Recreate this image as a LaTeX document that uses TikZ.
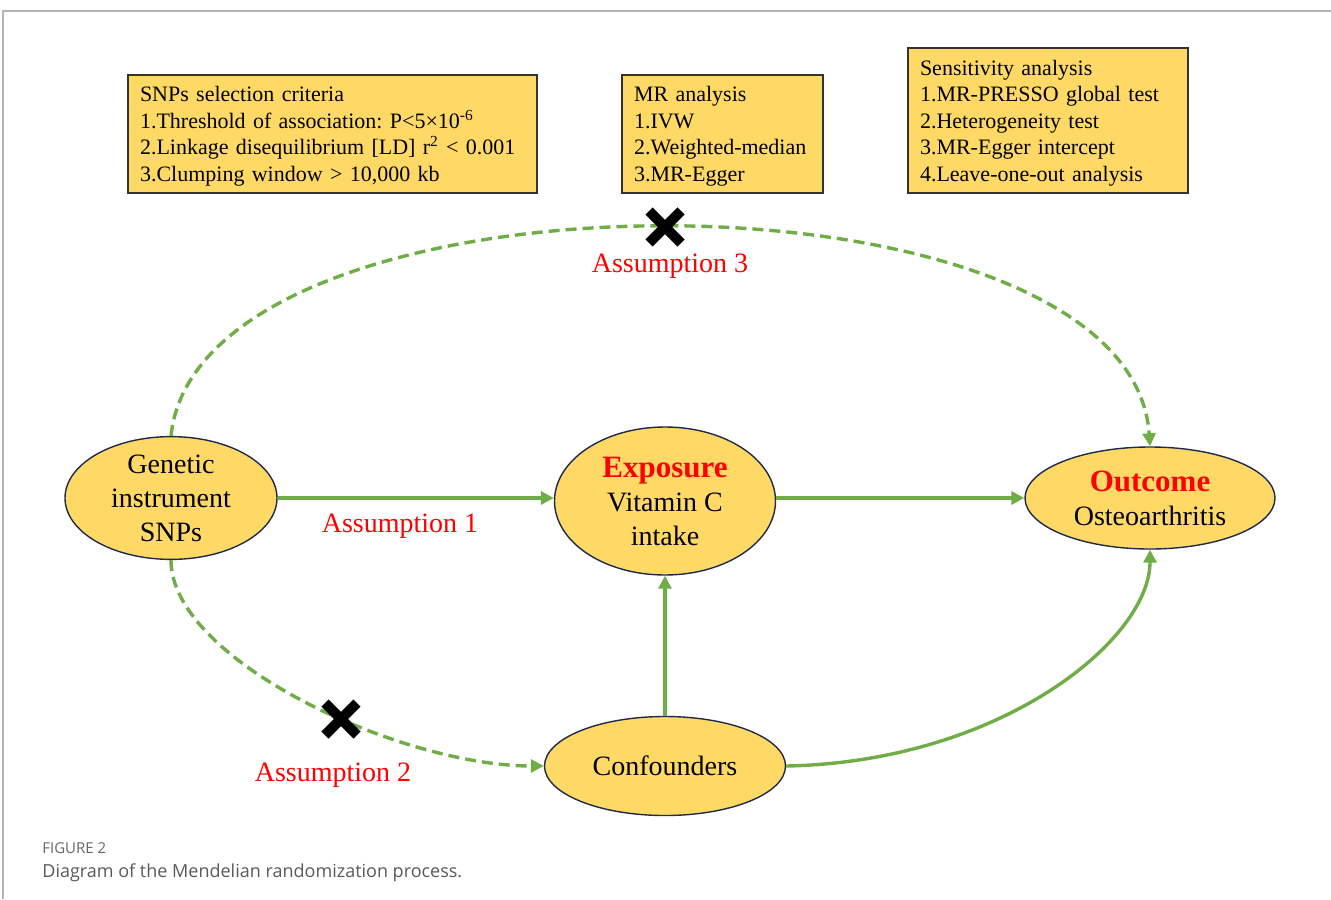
\documentclass[tikz,border=0pt]{standalone}
\usepackage{fontspec}
\setmainfont{Liberation Serif}
\newfontfamily\capfont{Open Sans}
\usetikzlibrary{shapes.geometric,shapes.misc,arrows.meta}

\definecolor{boxfill}{HTML}{FFD966}
\definecolor{arrowgreen}{HTML}{70AD47}
\definecolor{rimblue}{HTML}{1F2A4A}
\definecolor{framegray}{HTML}{B4B4B4}

\tikzset{
  critbox/.style={draw=black!80, line width=0.6pt, fill=boxfill, align=left,
                  inner xsep=6pt, inner ysep=0pt, text width=#1,
                  font=\fontsize{11}{13.25}\selectfont\frenchspacing},
  critbox/.default={100pt},
  oval/.style={ellipse, draw=rimblue, line width=0.7pt, fill=boxfill,
               inner sep=0pt, align=center,
               font=\fontsize{14}{17}\selectfont},
  link/.style={draw=arrowgreen, line width=1.7pt,
               -{Triangle[length=6.5pt,width=6.5pt]}},
  dlink/.style={link, dash pattern=on 5.5pt off 3pt},
  assume/.style={text=red, font=\fontsize{14}{17}\selectfont},
  nogo/.style={cross out, draw=black, line width=5pt, minimum size=11pt,
               inner sep=0pt},
}
\def\hd#1{{\fontsize{15.5}{17}\selectfont\bfseries\color{red}#1}}

\begin{document}
\begin{tikzpicture}[x=0.5pt, y=-0.5pt]
  \useasboundingbox (0,0) rectangle (1331,899);
  % page frame
  \draw[framegray, line width=1pt] (3,899) -- (3,11) -- (1331,11);

  % criteria boxes
  \node[critbox=192.5pt, minimum height=59pt] (snpbox) at (332.5,134)
    {\rule{0pt}{10pt}SNPs selection criteria\\
     1.Threshold of association: P<5×10\textsuperscript{-6}\\
     2.Linkage disequilibrium [LD] r\textsuperscript{2} < 0.001\\
     3.Clumping window > 10,000 kb};
  \node[critbox=88.5pt, minimum height=59pt] (mrbox) at (722.5,134)
    {\rule{0pt}{10pt}MR analysis\\ 1.IVW\\ 2.Weighted-median\\ 3.MR-Egger};
  \node[critbox=128pt, minimum height=72.5pt] (sensbox) at (1048,120.5)
    {\rule{0pt}{10pt}Sensitivity analysis\\ 1.MR-PRESSO global test\\ 2.Heterogeneity test\\
     3.MR-Egger intercept\\ 4.Leave-one-out analysis};

  % main ellipses
  \node[oval, minimum width=106pt, minimum height=50.5pt] (gen) at (171,498)
    {Genetic\\ instrument\\ SNPs};
  \node[oval, minimum width=110.5pt, minimum height=74pt] (expo) at (665,501)
    {\hd{Exposure}\\ Vitamin C\\ intake};
  \node[oval, minimum width=125pt, minimum height=51pt] (outc) at (1150,498)
    {\hd{Outcome}\\ Osteoarthritis};
  \node[oval, minimum width=120.5pt, minimum height=49.5pt] (conf) at (665,766)
    {Confounders};

  % connectors
  \draw[link] (gen.east) -- (gen.east -| expo.west);
  \draw[link] (expo.east |- outc.west) -- (outc.west);
  \draw[link] (conf.north) -- (expo.south);
  \draw[link] (conf.east) .. controls (1000,762) and (1150,640) .. (outc.south);
  \draw[dlink] (gen.north) .. controls (200,156) and (1130,156) .. (outc.north);
  \draw[dlink] (gen.south) .. controls (171,660) and (400,766) .. (conf.west);

  % violated assumptions
  \node[nogo] (x3) at (665,227) {};
  \node[nogo] (x2) at (341,719) {};
  \node[assume] (a3) at (670,266) {Assumption 3};
  \node[assume] (a1) at (400,526) {Assumption 1};
  \node[assume] (a2) at (333,775) {Assumption 2};

  % caption
  \node[anchor=base west, inner sep=0pt, text=black!60,
        font=\capfont\fontsize{7.5}{8}\selectfont] (figno) at (42,853) {FIGURE 2};
  \node[anchor=base west, inner sep=0pt, text=black!65,
        font=\capfont\fontsize{9}{10}\selectfont] (figcap) at (42,877)
    {Diagram of the Mendelian randomization process.};
\end{tikzpicture}
\end{document}
